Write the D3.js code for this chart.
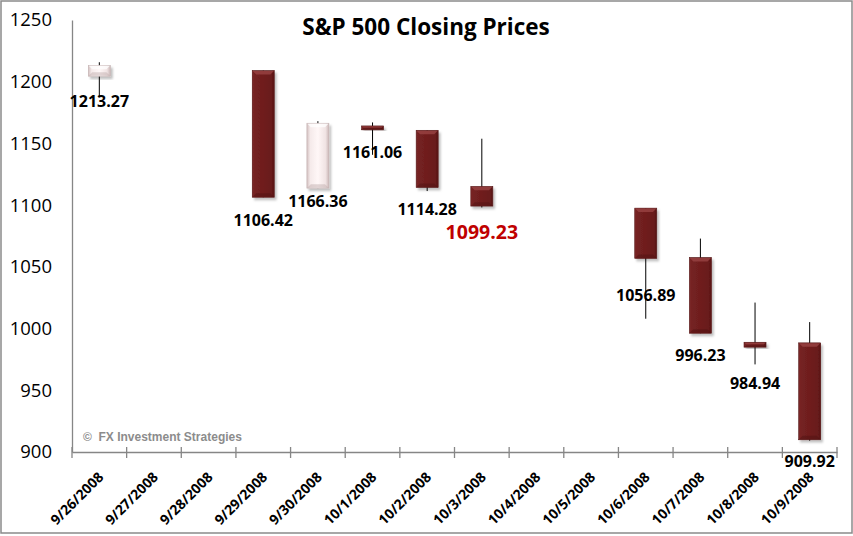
<!DOCTYPE html>
<html>
<head>
<meta charset="utf-8">
<script src="https://cdn.jsdelivr.net/npm/d3@7"></script>
<style>
  body { margin: 0; background: #fff; }
  svg { display: block; }
</style>
</head>
<body>
<div id="chart"></div>
<script>
// axis categories (every calendar day is a slot, weekends stay empty)
var dates = ["9/26/2008", "9/27/2008", "9/28/2008", "9/29/2008", "9/30/2008", "10/1/2008", "10/2/2008",
             "10/3/2008", "10/4/2008", "10/5/2008", "10/6/2008", "10/7/2008", "10/8/2008", "10/9/2008"];

// trading days and their prices
var tradeDays = ["9/26/2008", "9/29/2008", "9/30/2008", "10/1/2008", "10/2/2008",
                 "10/3/2008", "10/6/2008", "10/7/2008", "10/8/2008", "10/9/2008"];
var opens  = [1204.47, 1209.07, 1113.78, 1164.17, 1160.64, 1115.16, 1097.56, 1057.60, 988.91, 988.42];
var highs  = [1215.77, 1209.07, 1168.03, 1167.03, 1160.64, 1153.82, 1097.56, 1072.91, 1021.06, 1005.25];
var lows   = [1187.54, 1106.42, 1113.78, 1140.77, 1111.43, 1098.14, 1007.97, 996.23, 970.97, 909.19];
var closes = [1213.27, 1106.42, 1166.36, 1161.06, 1114.28, 1099.23, 1056.89, 996.23, 984.94, 909.92];

var yTicks = [900, 950, 1000, 1050, 1100, 1150, 1200, 1250];

// label placement below the close (pixels), the highlighted one is red
var labelDy = [36, 23, 78, 23, 22, 26, 37, 22, 36, 22];
var highlightDay = "10/3/2008";

var W = 853, H = 536;
var plotL = 72, plotR = 837, plotT = 20, plotB = 452;

var svg = d3.select("#chart").append("svg")
    .attr("width", W)
    .attr("height", H);

var defs = svg.append("defs");

var downGrad = defs.append("linearGradient").attr("id", "downGrad")
    .attr("x1", 0).attr("x2", 1).attr("y1", 0).attr("y2", 0);
downGrad.append("stop").attr("offset", "0%").attr("stop-color", "#7c2828");
downGrad.append("stop").attr("offset", "12%").attr("stop-color", "#742121");
downGrad.append("stop").attr("offset", "85%").attr("stop-color", "#6a1c1c");
downGrad.append("stop").attr("offset", "100%").attr("stop-color", "#581515");

var upGrad = defs.append("linearGradient").attr("id", "upGrad")
    .attr("x1", 0).attr("x2", 1).attr("y1", 0).attr("y2", 0);
upGrad.append("stop").attr("offset", "0%").attr("stop-color", "#d2c0c0");
upGrad.append("stop").attr("offset", "15%").attr("stop-color", "#f5eaea");
upGrad.append("stop").attr("offset", "50%").attr("stop-color", "#fff7f7");
upGrad.append("stop").attr("offset", "85%").attr("stop-color", "#f0e3e3");
upGrad.append("stop").attr("offset", "100%").attr("stop-color", "#cbb8b8");

var shadow = defs.append("filter").attr("id", "shadow")
    .attr("x", "-30%").attr("y", "-30%").attr("width", "160%").attr("height", "160%");
shadow.append("feDropShadow")
    .attr("dx", 2).attr("dy", 2.5).attr("stdDeviation", 1.3)
    .attr("flood-color", "#000").attr("flood-opacity", 0.25);

// outer frame
svg.append("rect")
    .attr("x", 1).attr("y", 1)
    .attr("width", 851).attr("height", 532)
    .attr("fill", "#fff")
    .attr("stroke", "#8a8a8a")
    .attr("stroke-width", 1.5);

var x = d3.scaleBand().domain(dates).range([plotL, plotR]).paddingInner(0).paddingOuter(0);
var y = d3.scaleLinear().domain([900, 1250]).range([plotB, plotT]);

// title
svg.append("text")
    .attr("x", 426).attr("y", 35)
    .attr("text-anchor", "middle")
    .style("font-family", "'Open Sans', sans-serif")
    .style("font-weight", "bold")
    .style("font-size", "22.5px")
    .attr("fill", "#000")
    .text("S&P 500 Closing Prices");

// y axis
var yAxis = d3.axisLeft(y).tickValues(yTicks).tickSize(0).tickPadding(20).tickFormat(d3.format("d"));
var gy = svg.append("g").attr("transform", "translate(" + plotL + ",0)").call(yAxis);
gy.select(".domain").attr("stroke", "#868686").attr("stroke-width", 1.3);
gy.selectAll("text")
    .style("font-family", "'Open Sans', sans-serif")
    .style("font-size", "18.5px")
    .attr("fill", "#000");

// x axis
var xAxis = d3.axisBottom(x).tickSize(0).tickPadding(0);
var gx = svg.append("g").attr("transform", "translate(0," + plotB + ")").call(xAxis);
gx.select(".domain").attr("stroke", "#868686").attr("stroke-width", 1.3);
gx.selectAll(".tick text")
    .attr("text-anchor", "end")
    .attr("dy", 0)
    .attr("y", 0)
    .attr("transform", "translate(5,26) rotate(-45)")
    .style("font-family", "'Open Sans', sans-serif")
    .style("font-weight", "bold")
    .style("font-size", "14px")
    .attr("fill", "#000");

// cross tick marks on the category boundaries
var edges = dates.map(function (d) { return x(d); }).concat([x(dates[dates.length - 1]) + x.bandwidth()]);
svg.append("g").selectAll("line").data(edges).enter()
    .append("line")
    .attr("x1", function (d) { return d; })
    .attr("x2", function (d) { return d; })
    .attr("y1", plotB - 5)
    .attr("y2", plotB + 6)
    .attr("stroke", "#868686")
    .attr("stroke-width", 1.3);

// watermark
svg.append("text")
    .attr("x", 83).attr("y", 441)
    .style("font-family", "'Liberation Sans', Arial, sans-serif")
    .style("font-weight", "bold")
    .style("font-size", "12px")
    .style("white-space", "pre")
    .attr("fill", "#8c8c8c")
    .text("\u00a9  FX Investment Strategies");

// candles
var candles = tradeDays.map(function (d, i) {
    return { day: d, open: opens[i], high: highs[i], low: lows[i], close: closes[i], dy: labelDy[i] };
});

var boxW = 22;
var cx = function (d) { return x(d.day) + x.bandwidth() / 2; };
var bodyH = function (d) { return Math.abs(y(d.open) - y(d.close)); };
var bevel = function (d) { return Math.min(3.5, bodyH(d) / 3); };
var isUp = function (d) { return d.close > d.open; };

var g = svg.append("g");

g.selectAll(".wick").data(candles).enter()
    .append("line")
    .attr("class", "wick")
    .attr("x1", cx).attr("x2", cx)
    .attr("y1", function (d) { return y(d.high); })
    .attr("y2", function (d) { return y(d.low); })
    .attr("stroke", "#000")
    .attr("stroke-width", 1);

var box = g.selectAll(".box").data(candles).enter()
    .append("g").attr("class", "box");

box.append("rect")
    .attr("x", function (d) { return cx(d) - boxW / 2; })
    .attr("y", function (d) { return y(Math.max(d.open, d.close)); })
    .attr("width", boxW)
    .attr("height", function (d) { return Math.max(3, bodyH(d)); })
    .attr("fill", function (d) { return isUp(d) ? "url(#upGrad)" : "url(#downGrad)"; })
    .attr("stroke", function (d) { return isUp(d) ? "#c4b2b2" : "#531414"; })
    .attr("stroke-width", 0.6)
    .attr("filter", "url(#shadow)");

// bevel: light top edge and slightly darker bottom edge
box.append("path")
    .attr("d", function (d) {
        var x0 = cx(d) - boxW / 2 + 0.4, x1 = cx(d) + boxW / 2 - 0.4;
        var t = y(Math.max(d.open, d.close)) + 0.4, b = bevel(d);
        return "M" + x0 + "," + t + "L" + x1 + "," + t + "L" + (x1 - b) + "," + (t + b) + "L" + (x0 + b) + "," + (t + b) + "Z";
    })
    .attr("fill", function (d) { return isUp(d) ? "#ffffff" : "#9c4545"; })
    .attr("opacity", 0.75);
box.append("path")
    .attr("d", function (d) {
        var x0 = cx(d) - boxW / 2 + 0.4, x1 = cx(d) + boxW / 2 - 0.4;
        var bt = y(Math.min(d.open, d.close)) - 0.4, b = bevel(d);
        return "M" + x0 + "," + bt + "L" + x1 + "," + bt + "L" + (x1 - b) + "," + (bt - b) + "L" + (x0 + b) + "," + (bt - b) + "Z";
    })
    .attr("fill", function (d) { return isUp(d) ? "#bca8a8" : "#4e1212"; })
    .attr("opacity", 0.45);

// close labels
g.selectAll(".lbl").data(candles).enter()
    .append("text")
    .attr("class", "lbl")
    .attr("x", cx)
    .attr("y", function (d) { return y(d.close) + d.dy; })
    .attr("dy", "0.35em")
    .attr("text-anchor", "middle")
    .style("font-family", "'Open Sans', sans-serif")
    .style("font-weight", "bold")
    .style("font-size", function (d) { return d.day === highlightDay ? "19.5px" : "16px"; })
    .attr("fill", function (d) { return d.day === highlightDay ? "#c00000" : "#000"; })
    .text(function (d) { return d3.format(".2f")(d.close); });
</script>
</body>
</html>
